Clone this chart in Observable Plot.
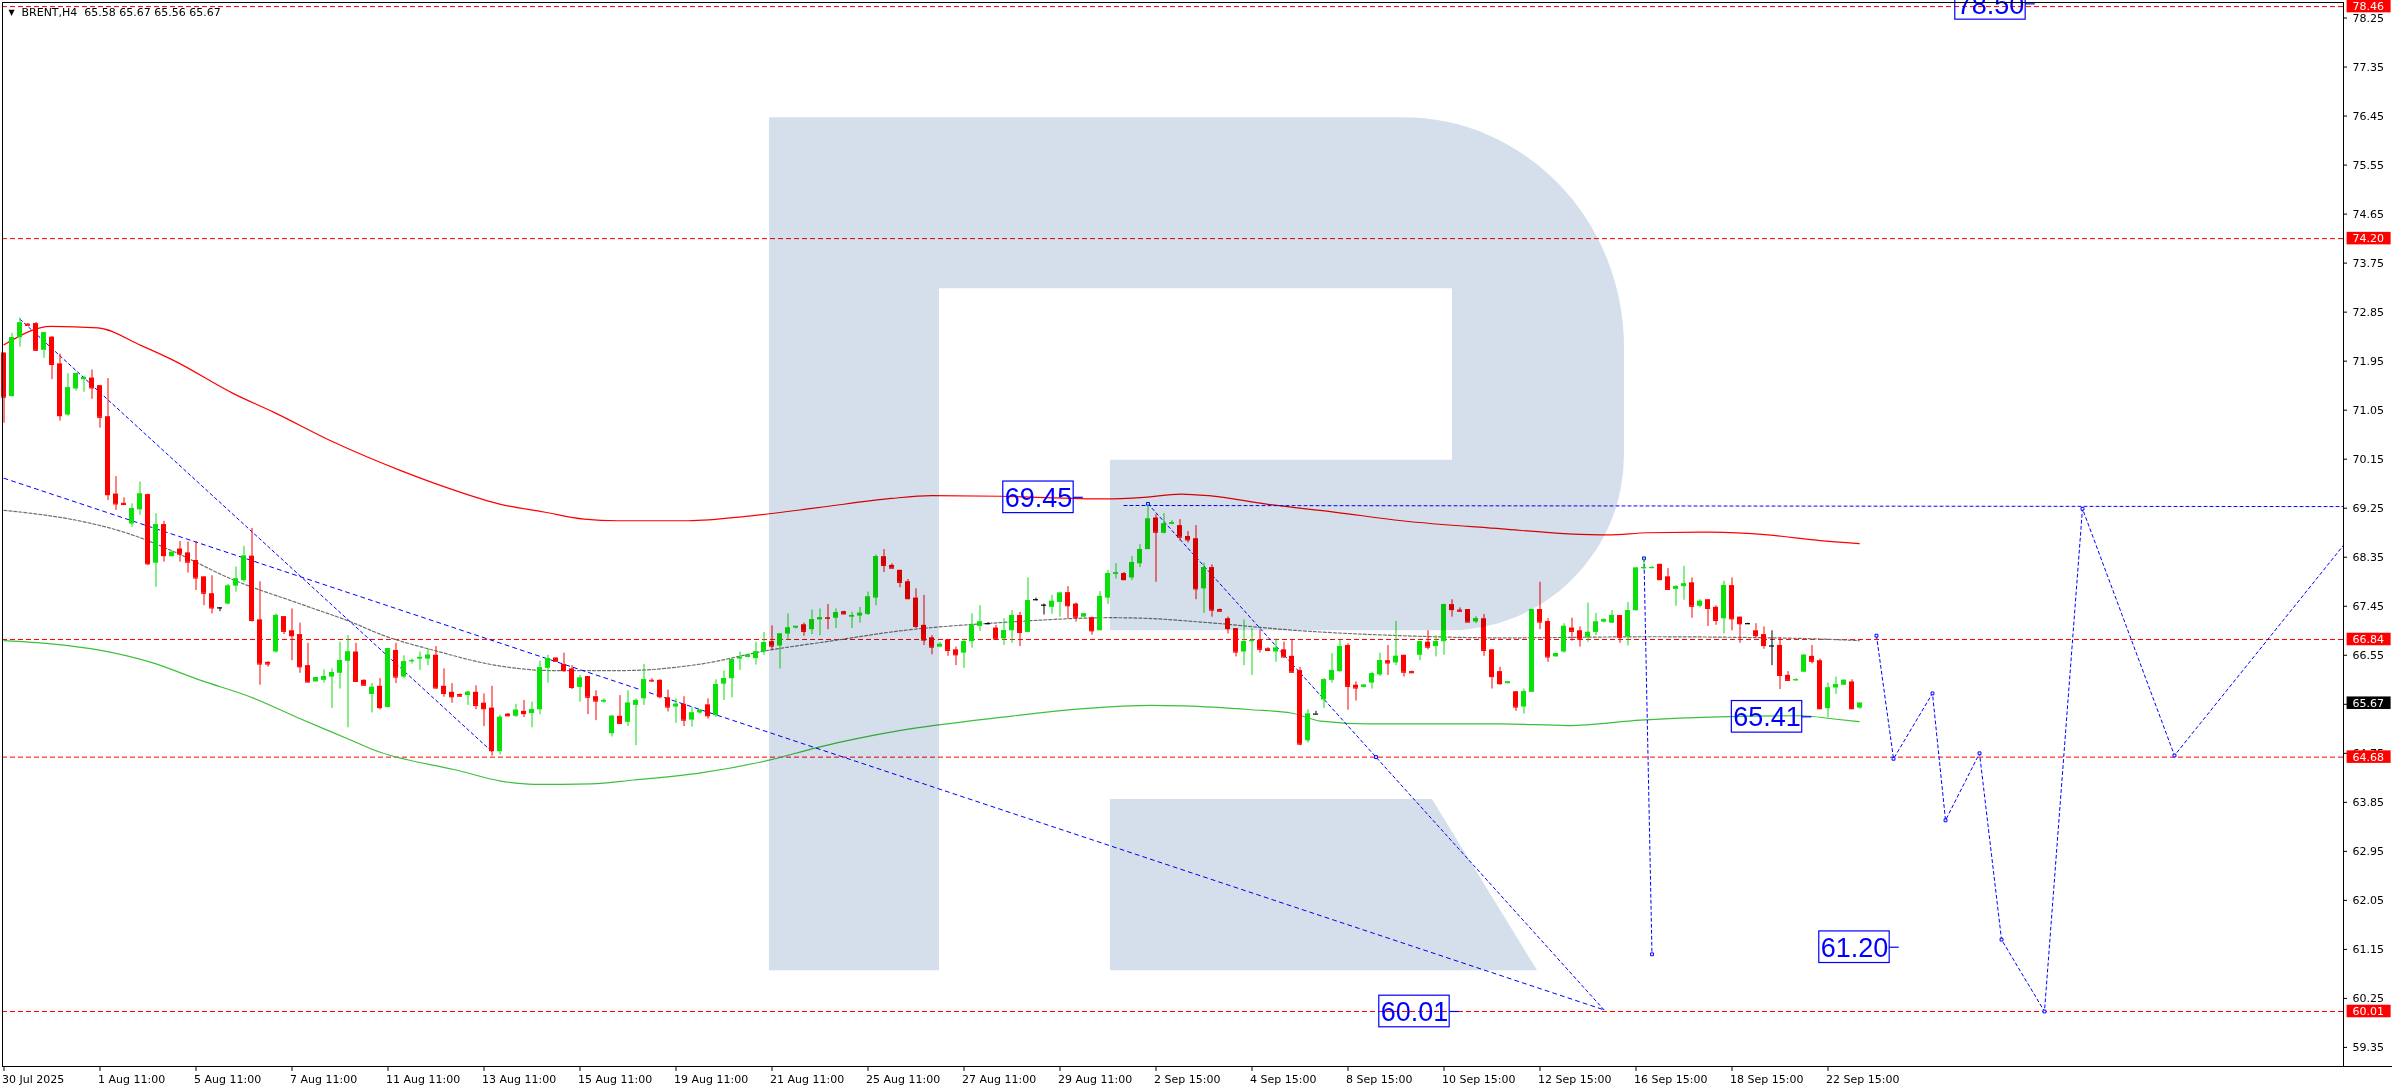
<!DOCTYPE html>
<html><head><meta charset="utf-8">
<script src="https://cdn.jsdelivr.net/npm/d3@7"></script>
<script src="https://cdn.jsdelivr.net/npm/@observablehq/plot@0.6"></script>
<style>
html,body{margin:0;padding:0;background:#fff;overflow:hidden;}
#chart svg{display:block;}
</style></head><body><div id="chart"></div>
<script>
// ---------------- DATA ----------------
const symbolTitle = "BRENT,H4";
const opens = [72.10,71.30,72.38,72.63,72.64,72.15,72.39,71.90,70.96,71.44,
71.61,71.64,71.50,70.93,69.51,69.34,68.96,69.22,69.50,68.24,
68.95,68.36,68.50,68.43,68.29,67.99,67.68,67.42,67.49,67.82,
67.92,68.37,67.20,66.42,66.61,67.26,67.00,66.93,66.36,66.06,
66.09,66.15,66.22,66.44,66.61,66.09,65.83,65.98,65.59,66.64,
66.15,66.44,66.48,66.48,66.55,65.98,65.87,65.83,65.81,65.87,
65.67,65.58,64.78,65.47,65.43,65.52,65.48,65.55,66.31,66.50,
66.38,66.30,65.96,66.16,65.79,65.69,65.11,65.43,65.32,65.63,
65.75,66.09,66.09,65.77,65.60,65.65,65.36,65.49,65.64,65.44,
66.02,66.12,66.48,66.51,66.49,66.61,66.80,66.72,66.94,67.05,
67.11,67.02,67.20,67.24,67.23,67.35,67.25,67.27,67.30,67.60,
68.36,68.20,68.11,67.90,67.60,67.10,66.87,66.70,66.83,66.65,
66.59,66.80,67.08,67.13,67.05,66.85,67.00,67.28,66.97,67.57,
67.47,67.43,67.52,67.70,67.49,67.25,67.24,67.00,67.60,68.04,
68.05,67.97,68.23,68.49,69.07,68.79,68.96,68.93,68.73,68.69,
67.77,68.16,67.39,67.22,67.04,66.61,66.81,66.82,66.67,66.61,
66.65,66.53,66.27,64.98,65.47,65.73,66.09,66.25,66.73,66.00,
65.96,66.04,66.19,66.45,66.41,66.55,66.25,66.55,66.79,66.71,
66.80,67.48,67.38,67.39,67.16,67.22,66.65,66.25,66.03,65.88,
65.60,65.87,67.39,67.17,66.52,66.61,67.05,67.00,66.88,66.97,
67.16,67.14,67.28,66.89,67.37,68.14,68.15,68.22,67.99,67.76,
67.81,67.88,67.45,67.57,67.43,67.22,67.83,67.25,67.13,67.00,
66.93,66.72,66.73,66.18,66.09,66.24,66.53,66.45,65.57,65.95,
66.00,66.06,65.58];
const highs = [72.10,72.46,72.74,72.64,72.66,72.48,72.40,72.08,71.72,71.72,
71.67,71.79,71.50,71.63,69.83,69.44,69.33,69.73,69.51,69.15,
69.01,68.45,68.64,68.63,68.64,67.99,68.01,67.42,67.85,68.17,
68.55,68.88,67.90,66.43,67.31,67.26,67.40,67.14,66.77,66.14,
66.28,66.30,66.79,66.91,66.77,66.10,66.03,66.12,66.67,66.77,
66.54,66.48,66.61,66.67,66.71,66.30,66.03,65.84,65.89,65.99,
65.84,65.98,65.45,65.48,65.65,65.72,65.69,66.44,66.55,66.50,
66.59,66.36,66.18,66.16,65.90,65.75,65.44,65.81,65.90,65.75,
66.38,66.12,66.10,65.91,65.75,65.79,65.59,65.55,65.75,66.10,
66.26,66.48,66.61,66.57,66.79,66.97,67.09,66.94,67.31,67.08,
67.14,67.38,67.40,67.48,67.40,67.36,67.34,67.43,67.71,68.39,
68.49,68.23,68.11,67.94,67.77,67.65,66.91,66.79,66.83,66.70,
66.85,67.31,67.46,67.15,67.10,67.22,67.37,67.34,67.97,67.60,
67.49,67.65,67.71,67.81,67.51,67.31,67.25,67.72,68.11,68.23,
68.07,68.36,68.58,69.30,69.13,69.15,69.02,69.04,68.82,68.93,
68.24,68.21,67.40,67.25,67.04,67.20,67.04,67.01,66.69,66.85,
66.79,66.83,66.33,65.55,65.52,66.12,66.58,66.83,66.76,66.06,
66.01,66.24,66.59,66.73,67.17,66.55,66.26,66.80,67.00,66.91,
67.49,67.57,67.42,67.39,67.26,67.30,66.65,66.33,66.06,65.88,
65.93,67.39,67.89,67.22,66.58,67.13,67.23,67.07,67.51,67.32,
67.22,67.37,67.28,67.52,68.15,68.35,68.18,68.22,68.14,67.83,
68.18,67.97,67.57,67.57,67.46,67.91,67.97,67.25,67.14,67.13,
67.07,67.00,66.88,66.25,66.12,66.56,66.73,66.48,66.04,66.15,
66.09,66.10,65.67];
const lows = [70.81,71.29,72.21,72.60,72.13,72.00,71.61,70.85,70.94,71.40,
71.38,71.25,70.72,69.39,69.21,69.31,68.90,69.12,68.20,67.80,
68.26,68.36,68.26,68.06,67.74,67.46,67.31,67.35,67.48,67.71,
67.89,67.16,66.00,66.33,66.59,66.93,66.45,66.22,66.04,66.06,
66.04,65.57,65.93,65.22,66.06,66.00,65.49,65.55,65.59,66.03,
66.12,66.39,66.27,66.36,65.93,65.78,65.67,65.79,65.63,65.55,
65.24,64.70,64.72,65.42,65.41,65.41,65.22,65.46,66.04,66.43,
66.24,65.92,65.69,65.46,65.35,65.67,65.05,65.28,65.24,64.89,
65.63,66.05,65.75,65.51,65.30,65.24,65.23,65.47,65.38,65.41,
65.72,65.77,66.27,66.50,66.37,66.55,66.64,66.30,66.83,67.03,
66.90,66.93,66.91,67.02,67.04,67.30,67.04,67.14,67.28,67.46,
68.07,68.15,67.79,67.57,67.04,66.73,66.56,66.69,66.53,66.36,
66.31,66.68,66.99,67.11,66.82,66.73,66.77,66.71,66.97,67.55,
67.29,67.30,67.25,67.22,67.16,67.25,66.92,67.00,67.48,67.95,
67.92,67.92,68.16,68.49,67.89,68.78,68.95,68.65,68.61,67.57,
67.32,67.25,67.36,66.94,66.52,66.36,66.18,66.59,66.62,66.42,
66.50,66.22,64.89,64.94,65.47,65.57,66.04,66.24,65.54,65.71,
65.95,65.93,66.16,66.18,66.36,66.15,66.23,66.45,66.65,66.52,
66.55,67.25,67.35,67.16,67.13,66.53,65.93,66.00,66.02,65.52,
65.47,65.87,67.02,66.42,66.52,66.59,66.81,66.70,66.79,66.91,
67.14,67.13,66.77,66.72,67.36,68.11,68.14,67.94,67.74,67.45,
67.56,67.23,67.42,67.08,67.10,66.94,67.00,66.77,67.12,66.87,
66.66,66.36,65.92,66.07,66.07,66.23,66.39,65.55,65.40,65.83,
66.00,65.55,65.56];
const closes = [71.29,72.38,72.65,72.61,72.15,72.47,71.89,70.95,71.46,71.72,
71.65,71.46,70.92,69.50,69.33,69.32,69.24,69.51,68.23,68.95,
68.38,68.44,68.41,68.26,67.97,67.69,67.42,67.42,67.82,67.95,
68.37,67.19,66.39,66.39,67.28,66.99,66.91,66.34,66.06,66.14,
66.16,66.23,66.45,66.61,66.07,66.00,65.96,65.59,66.67,66.15,
66.43,66.45,66.51,66.55,65.95,65.85,65.79,65.80,65.87,65.63,
65.57,64.80,65.41,65.44,65.54,65.48,65.55,66.32,66.49,66.44,
66.27,65.96,66.13,65.78,65.71,65.72,65.43,65.30,65.67,65.72,
66.10,66.08,65.79,65.60,65.65,65.36,65.49,65.54,65.44,66.01,
66.12,66.47,66.51,66.55,66.61,66.78,66.72,66.94,67.05,67.08,
66.99,67.20,67.24,67.23,67.33,67.31,67.28,67.32,67.62,68.36,
68.20,68.15,67.89,67.59,67.08,66.83,66.70,66.75,66.64,66.56,
66.80,67.10,67.16,67.13,66.85,67.00,67.28,66.97,67.55,67.57,
67.47,67.54,67.69,67.46,67.25,67.31,67.00,67.63,68.05,68.06,
67.94,68.25,68.49,69.05,68.81,68.96,68.98,68.72,68.67,67.77,
68.16,67.38,67.36,67.04,66.61,66.80,66.82,66.66,66.64,66.68,
66.52,66.24,64.92,65.47,65.47,66.10,66.27,66.71,65.98,65.95,
66.00,66.21,66.45,66.41,66.53,66.24,66.23,66.80,66.70,66.80,
67.48,67.39,67.36,67.16,67.22,66.64,66.16,66.03,66.06,65.60,
65.88,67.39,67.16,66.52,66.58,67.08,66.99,66.85,66.97,67.16,
67.20,67.28,66.88,67.37,68.15,68.16,68.16,67.94,67.76,67.81,
67.86,67.45,67.54,67.41,67.19,67.83,67.22,67.13,67.13,66.91,
66.73,66.72,66.18,66.09,66.10,66.55,66.44,65.57,65.95,66.01,
66.09,65.57,65.67];

// x-axis: bar index of each label and its text
const xTickBars = [0,12,24,36,48,60,72,84,96,108,120,132,144,156,168,180,192,204,216,228];
const xTickLabels = ["30 Jul 2025","1 Aug 11:00","5 Aug 11:00","7 Aug 11:00","11 Aug 11:00","13 Aug 11:00",
  "15 Aug 11:00","19 Aug 11:00","21 Aug 11:00","25 Aug 11:00","27 Aug 11:00","29 Aug 11:00","2 Sep 15:00",
  "4 Sep 15:00","8 Sep 15:00","10 Sep 15:00","12 Sep 15:00","16 Sep 15:00","18 Sep 15:00","22 Sep 15:00"];
// y-axis tick values
const yTicks = [78.25,77.35,76.45,75.55,74.65,73.75,72.85,71.95,71.05,70.15,69.25,68.35,67.45,66.55,65.65,64.75,63.85,62.95,62.05,61.15,60.25,59.35];
// horizontal levels (red dashed) and current price
const levels = [78.46,74.20,66.84,64.68,60.01];
const lastPrice = 65.67;

// moving averages: [bar, value]
const maSlow = [[0,72.25],[5.9,72.59],[11.75,72.56],[17.1,72.24],[21.25,71.96],[28.75,71.35],[33.75,71.01],[41.25,70.46],[49.6,69.94],[55.9,69.60],[62.1,69.32],[67.5,69.18],[72.5,69.05],[76.75,69.02],[85.5,69.02],[93.4,69.11],[101.75,69.26],[110.9,69.43],[115.9,69.48],[124.6,69.47],[137.5,69.42],[142.5,69.45],[147.1,69.51],[150.6,69.48],[158,69.32],[166.25,69.18],[174.75,69.02],[187.25,68.87],[195.5,68.78],[200.5,68.76],[205.5,68.80],[213.4,68.81],[220.5,68.76],[226.75,68.66],[231.9,68.60]];
const maMid = [[0,69.21],[3.75,69.15],[10,69.0],[16.25,68.75],[20.5,68.50],[28.75,67.93],[37.1,67.49],[43.4,67.16],[47.5,66.91],[53.75,66.64],[62.1,66.35],[68.4,66.27],[77.5,66.27],[87.1,66.39],[95.5,66.64],[103.75,66.82],[112.1,67.0],[124.6,67.15],[138.4,67.24],[142.5,67.23],[149.6,67.16],[162.1,67.0],[174.6,66.91],[187.1,66.87],[205.9,66.89],[216.25,66.88],[226.75,66.85],[231.9,66.82]];
const maFast = [[0,66.82],[5.9,66.76],[12.1,66.64],[18.4,66.42],[24.6,66.09],[30.9,65.78],[37.1,65.38],[43.4,64.99],[46.25,64.81],[56.9,64.43],[62.1,64.24],[66.25,64.18],[73.4,64.19],[78.75,64.26],[87.1,64.39],[95.5,64.62],[101.75,64.86],[112.1,65.17],[124.6,65.41],[135,65.57],[143.4,65.63],[147.5,65.62],[155.9,65.55],[160.9,65.49],[164.6,65.34],[170.5,65.29],[187.1,65.29],[195.5,65.26],[204.6,65.36],[214.25,65.42],[224.6,65.44],[228.75,65.38],[231.9,65.33]];

// analyst lines (blue dotted): [bar, price]
const trendA = [[0,69.80],[200,60.04]];
const trendB = [[2,72.72],[61,64.78]];
const trendC = [[143,69.33],[171.5,64.68],[200,60.04]];
const levelH = [[140,69.30],[292.4,69.28]];
const dropV = [[205,68.33],[206,61.06]];
const forecast = [[234.06,66.91],[236.19,64.65],[241.06,65.85],[242.69,63.52],[246.94,64.75],[249.69,61.33],[255.06,60.01],[259.81,69.24],[271.31,64.71],[292.44,68.57]];

// price notes (boxed labels): text, bar of box centre, price
const noteText = ["69.45","65.41","60.01","61.20","78.50"];
const noteBar = [129.31,220.38,176.31,231.31,248.31];
const notePrice = [69.45,65.42,60.01,61.19,78.51];

// watermark logo outline in data units
const logo = {stemL:95.69, stemR:116.94, armL:138.31, holeR:181.06, arcStart:174.94, right:202.56, arcEnd:180.69,
  legTopR:178.56, legBaseR:191.69, top:76.42, holeTop:73.28, holeBottom:70.13, bowlBottom:67.00,
  topArcEnd:72.20, botArcStart:70.22, legTop:63.90, base:60.76};

// ---------------- CHART ----------------
const X0 = -0.1875, X1 = 292.4375, Y0 = 59.0, Y1 = 78.535;
const GREEN = "#0ae00a", RED = "#ff0000", BLUE = "#0000ff";
const idx = d3.range(opens.length);
const candleColor = i => closes[i] > opens[i] ? GREEN : (closes[i] < opens[i] ? RED : "#000000");
const BW = 0.3125;
const pts = a => a.map(([x, y]) => ({x, y}));
const notes = noteText.map((t, k) => ({t, x: noteBar[k], y: notePrice[k]}));
const last = opens.length - 1;
const title = `${symbolTitle}  ${opens[last].toFixed(2)} ${highs[last].toFixed(2)} ${lows[last].toFixed(2)} ${closes[last].toFixed(2)}`;

function logoMark(index, scales) {
  const sx = scales.x, sy = scales.y, L = logo;
  const ns = "http://www.w3.org/2000/svg";
  const g = document.createElementNS(ns, "g");
  g.setAttribute("style", "mix-blend-mode:multiply");
  const rx1 = sx(L.right) - sx(L.arcStart), ry1 = sy(L.topArcEnd) - sy(L.top);
  const rx2 = sx(L.right) - sx(L.arcEnd), ry2 = sy(L.bowlBottom) - sy(L.botArcStart);
  const d1 = `M${sx(L.stemL)},${sy(L.top)} H${sx(L.arcStart)} A${rx1},${ry1} 0 0 1 ${sx(L.right)},${sy(L.topArcEnd)} V${sy(L.botArcStart)} A${rx2},${ry2} 0 0 1 ${sx(L.arcEnd)},${sy(L.bowlBottom)} H${sx(L.armL)} V${sy(L.holeBottom)} H${sx(L.holeR)} V${sy(L.holeTop)} H${sx(L.stemR)} V${sy(L.base)} H${sx(L.stemL)} Z`;
  const d2 = `M${sx(L.armL)},${sy(L.legTop)} H${sx(L.legTopR)} L${sx(L.legBaseR)},${sy(L.base)} H${sx(L.armL)} Z`;
  for (const d of [d1, d2]) {
    const p = document.createElementNS(ns, "path");
    p.setAttribute("d", d);
    p.setAttribute("fill", "#d5dfeb");
    g.appendChild(p);
  }
  return g;
}

const blueLine = (a, extra = {}) => Plot.line(pts(a), {x: "x", y: "y", stroke: BLUE, strokeWidth: 1, strokeDasharray: "3,3", ...extra});
const blueDots = a => Plot.dot(pts(a), {x: "x", y: "y", symbol: "square", r: 1.6, stroke: BLUE, fill: "white", strokeWidth: 1});

const chart = Plot.plot({
  width: 2392, height: 1090,
  marginLeft: 2, marginRight: 49, marginTop: 2, marginBottom: 24,
  x: {domain: [X0, X1], axis: null},
  y: {domain: [Y0, Y1], axis: null},
  style: {fontFamily: "DejaVu Sans, sans-serif", fontSize: "11px", background: "#ffffff", color: "#000"},
  marks: [
    Plot.ruleY(levels, {y: d => d, x1: X0, x2: X1, stroke: RED, strokeWidth: 1, strokeDasharray: "5,3"}),
    Plot.line(pts(maSlow), {x: "x", y: "y", stroke: RED, strokeWidth: 1.2, curve: "monotone-x"}),
    Plot.line(pts(maMid), {x: "x", y: "y", stroke: "#707070", strokeWidth: 1.2, strokeDasharray: "3,2", curve: "monotone-x"}),
    Plot.line(pts(maFast), {x: "x", y: "y", stroke: "#3cc03c", strokeWidth: 1.2, curve: "monotone-x"}),
    blueLine(trendA, {strokeDasharray: "4,4"}),
    blueLine(trendB),
    blueLine(trendC),
    blueLine(levelH),
    blueLine(dropV),
    blueLine(forecast),
    blueDots([trendC[0], trendC[1], dropV[0], dropV[1], ...forecast.slice(0, -1)]),
    Plot.ruleX(idx, {x: i => i, y1: i => lows[i], y2: i => highs[i], stroke: candleColor, strokeWidth: 1}),
    Plot.rect(idx, {x1: i => i - BW, x2: i => i + BW, y1: i => opens[i], y2: i => closes[i], fill: candleColor}),
    Plot.ruleY(idx, {y: i => closes[i], x1: i => i - BW, x2: i => i + BW, stroke: candleColor, strokeWidth: 1.2}),
    logoMark,
    Plot.rect(notes, {x1: d => d.x - 4.4, x2: d => d.x + 4.4, y1: d => d.y - 0.29, y2: d => d.y + 0.29, fill: "none", stroke: BLUE, strokeWidth: 1.2}),
    Plot.ruleY(notes, {y: "y", x1: d => d.x + 4.4, x2: d => d.x + 5.6, stroke: BLUE, strokeWidth: 1.2}),
    Plot.text(notes, {x: "x", y: "y", text: "t", fill: BLUE, fontSize: 27, fontFamily: "Liberation Sans, Arial, sans-serif", dy: 1}),
    Plot.frame({stroke: "#000", strokeWidth: 1}),
    Plot.ruleY([Y0], {x1: X1, x2: 299, stroke: "#000", strokeWidth: 1}),
    Plot.ruleY(yTicks, {y: d => d, x1: X1, x2: X1 + 0.5, stroke: "#000"}),
    Plot.text(yTicks, {x: X1, y: d => d, dx: 9, text: d => d.toFixed(2), textAnchor: "start", fill: "#000"}),
    Plot.ruleX(xTickBars, {x: d => d, y1: Y0, y2: Y0 - 0.09, stroke: "#000"}),
    Plot.text(xTickBars, {x: d => d, y: Y0, dy: 13, dx: -2, text: (d, k) => xTickLabels[k], textAnchor: "start", fill: "#000"}),
    Plot.rect(levels, {x1: X1 + 0.45, x2: X1 + 5.95, y1: d => d - 0.115, y2: d => d + 0.115, fill: RED}),
    Plot.text(levels, {x: X1, y: d => d, dx: 9, text: d => d.toFixed(2), textAnchor: "start", fill: "#fff"}),
    Plot.rect([lastPrice], {x1: X1 + 0.45, x2: X1 + 5.95, y1: d => d - 0.115, y2: d => d + 0.115, fill: "#000"}),
    Plot.text([lastPrice], {x: X1, y: d => d, dx: 9, text: d => d.toFixed(2), textAnchor: "start", fill: "#fff"}),
    Plot.text(["\u25BC"], {x: X0, y: Y1, dx: 9, dy: 10, fontSize: 8, fill: "#000"}),
    Plot.text([title], {x: X0, y: Y1, dx: 19, dy: 10, textAnchor: "start", fill: "#000"})
  ]
});
document.getElementById("chart").appendChild(chart);
</script>
</body></html>
